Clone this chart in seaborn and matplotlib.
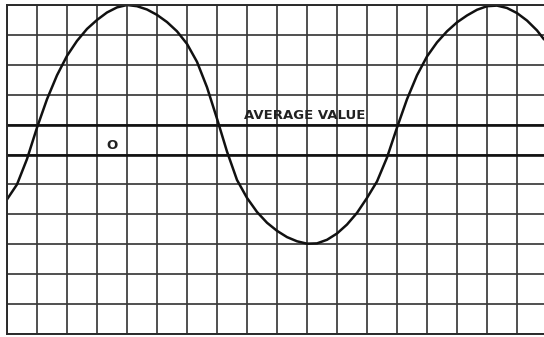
import numpy as np
import pandas as pd
import seaborn as sns
import matplotlib
matplotlib.use("Agg")
import matplotlib.pyplot as plt

# curve: angle in degrees, value in grid squares
angle = [-30, -20, -10, 0, 10, 20, 30, 40, 50, 60, 70, 80, 90,
         100, 110, 120, 130, 140, 150, 160, 170, 180, 190, 200,
         210, 220, 230, 240, 250, 260, 270, 280, 290, 300, 310,
         320, 330, 340, 350, 360, 370, 380, 390, 400, 410, 420,
         430, 440, 450, 460, 470, 480, 490, 500, 507]
value = [-1.5, -1.0, -0.15, 0.9, 1.85, 2.65, 3.3, 3.8, 4.2, 4.5, 4.75, 4.92, 5.0,
         4.96, 4.85, 4.67, 4.43, 4.12, 3.7, 3.1, 2.25, 1.2, 0.1, -0.85,
         -1.45, -1.92, -2.28, -2.55, -2.76, -2.9, -2.98, -2.97, -2.85, -2.64, -2.34,
         -1.95, -1.45, -0.9, -0.1, 0.9, 1.85, 2.65, 3.28, 3.75, 4.12, 4.42,
         4.65, 4.84, 4.96, 4.98, 4.9, 4.73, 4.48, 4.15, 3.85]

average_value = 1.0
zero_value = 0.0
label_avg = "AVERAGE VALUE"
label_zero = "O"

sns.set_style("white")

fig = plt.figure(figsize=(5.44, 3.37), dpi=100)
ax = fig.add_axes([7 / 544, 3 / 337, 1 - 7 / 544, 329 / 337])

df = pd.DataFrame({"angle": angle, "value": value})

# graph paper
ax.set_xlim(-30, 507)
ax.set_ylim(-6, 5)
ax.set_xticks(np.arange(-30, 508, 30))
ax.set_yticks(np.arange(-6, 6, 1))
ax.grid(True, color="#3a3a3a", linewidth=1.25)
ax.tick_params(length=0, labelbottom=False, labelleft=False)
for side in ["left", "top", "bottom"]:
    ax.spines[side].set_color("#2a2a2a")
    ax.spines[side].set_linewidth(1.4)
ax.spines["right"].set_visible(False)

ax.axhline(average_value, color="#111111", linewidth=1.9)
ax.axhline(zero_value, color="#111111", linewidth=1.9)

sns.lineplot(data=df, x="angle", y="value", ax=ax, color="#111111",
             linewidth=1.8, sort=True)
ax.lines[-1].set_solid_joinstyle("round")

ax.text(268, 1.3, label_avg, fontsize=9.5, fontweight="bold",
        ha="center", va="center", color="#222222")
ax.text(75, 0.3, label_zero, fontsize=9.5, fontweight="bold",
        ha="center", va="center", color="#222222")

ax.set_xlabel("")
ax.set_ylabel("")
fig.savefig("out.png", dpi=100)
